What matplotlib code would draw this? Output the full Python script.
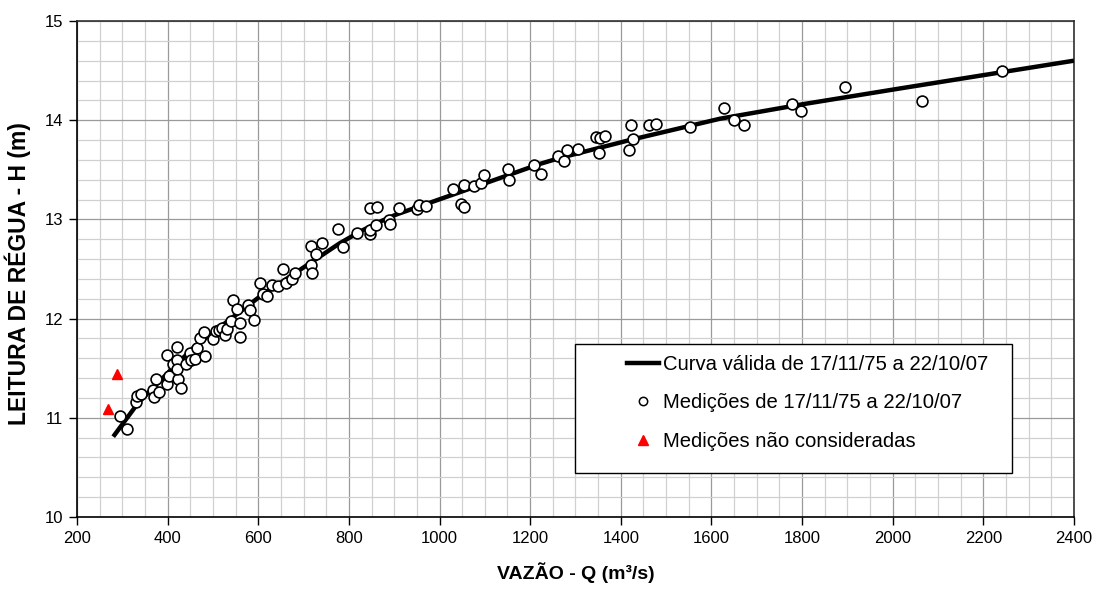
import matplotlib
matplotlib.use("Agg")
import matplotlib.pyplot as plt
from matplotlib.lines import Line2D
from matplotlib.patches import Rectangle
from matplotlib.ticker import MultipleLocator

plt.rcParams['font.family'] = ['Liberation Sans', 'DejaVu Sans']

# Medições de vazão (m³/s) e leitura de régua (m), 17/11/75 a 22/10/07
q_med = [296, 310, 330, 333, 342, 368, 370, 375, 380, 398, 403, 399, 412, 421,
         421, 423, 429, 421, 440, 449, 452, 460, 464, 471, 480, 482, 500, 507,
         513, 521, 526, 530, 540, 545, 553, 560, 560, 578, 582, 590, 604, 610,
         619, 630, 643, 655, 661, 674, 682, 716, 718, 716, 727, 741, 777, 786,
         819, 846, 847, 846, 863, 860, 889, 891, 910, 951, 955, 970, 1030, 1048,
         1055, 1055, 1076, 1092, 1098, 1151, 1153, 1209, 1223, 1261, 1274, 1281,
         1306, 1345, 1352, 1355, 1366, 1419, 1423, 1428, 1462, 1478, 1552, 1628,
         1649, 1672, 1778, 1798, 1895, 2065, 2242]
h_med = [11.02, 10.89, 11.16, 11.22, 11.24, 11.28, 11.21, 11.39, 11.26, 11.34,
         11.42, 11.63, 11.54, 11.71, 11.58, 11.39, 11.30, 11.49, 11.54, 11.65,
         11.58, 11.59, 11.70, 11.80, 11.87, 11.62, 11.79, 11.88, 11.89, 11.91,
         11.83, 11.90, 11.98, 12.19, 12.10, 11.96, 11.81, 12.14, 12.09, 11.99,
         12.36, 12.25, 12.23, 12.34, 12.33, 12.50, 12.36, 12.40, 12.46, 12.54,
         12.46, 12.73, 12.65, 12.76, 12.90, 12.72, 12.86, 12.85, 12.89, 13.12,
         13.13, 12.94, 12.99, 12.95, 13.12, 13.10, 13.15, 13.14, 13.31, 13.16,
         13.13, 13.35, 13.34, 13.37, 13.45, 13.51, 13.40, 13.55, 13.46, 13.64,
         13.59, 13.70, 13.71, 13.83, 13.67, 13.82, 13.84, 13.70, 13.95, 13.81,
         13.95, 13.96, 13.93, 14.12, 14.00, 13.95, 14.16, 14.09, 14.33, 14.19,
         14.50]

# Medições descartadas
q_nc = [269, 288]
h_nc = [11.09, 11.44]

# Curva-chave
q_curva = [280, 335, 400, 460, 540, 600, 685, 780, 830, 870, 905, 1067, 1222,
           1266, 1420, 1619, 1800, 2016, 2400]
h_curva = [10.81, 11.15, 11.45, 11.72, 12.00, 12.21, 12.47, 12.76, 12.89,
           12.98, 13.05, 13.31, 13.56, 13.62, 13.80, 14.015, 14.16, 14.32, 14.60]

fig = plt.figure(figsize=(10.98, 5.90), dpi=100)
ax = fig.add_axes([0.0701, 0.1237, 0.908, 0.8407])

ax.set_xlim(200, 2400)
ax.set_ylim(10, 15)
ax.xaxis.set_major_locator(MultipleLocator(200))
ax.xaxis.set_minor_locator(MultipleLocator(50))
ax.yaxis.set_major_locator(MultipleLocator(1))
ax.yaxis.set_minor_locator(MultipleLocator(0.2))

ax.grid(True, which='minor', color='#d0d0d0', linewidth=0.9)
ax.grid(True, which='major', color='#9a9a9a', linewidth=0.9)
ax.set_axisbelow(True)

ax.tick_params(which='major', direction='out', length=6, width=1,
               labelsize=12, pad=4, colors='black')
ax.tick_params(which='minor', length=0)
for side in ['left', 'bottom']:
    ax.spines[side].set_color('black')
    ax.spines[side].set_linewidth(1.2)
for side in ['top', 'right']:
    ax.spines[side].set_color('#303030')
    ax.spines[side].set_linewidth(1.2)

ax.plot(q_curva, h_curva, color='black', linewidth=3.2, solid_capstyle='butt',
        zorder=3)
ax.plot(q_med, h_med, linestyle='none', marker='o', markersize=7.8,
        markerfacecolor='white', markeredgecolor='black', markeredgewidth=1.2,
        zorder=4)
ax.plot(q_nc, h_nc, linestyle='none', marker='^', markersize=7.5,
        markerfacecolor='#ff0000', markeredgecolor='#ff0000', zorder=4)

ax.set_xlabel('VAZÃO - Q (m³/s)', fontsize=14, fontweight='bold', labelpad=12)
ax.set_ylabel('LEITURA DE RÉGUA - H (m)', fontsize=16.5, fontweight='bold')
ax.yaxis.set_label_coords(-0.046, 0.49)

# Caixa da legenda
ax.add_patch(Rectangle((0.4995, 0.0887), 0.4385, 0.2601,
                       transform=ax.transAxes, facecolor='white',
                       edgecolor='black', linewidth=1.0, zorder=5))

handles = [
    Line2D([], [], color='black', linewidth=3.2),
    Line2D([], [], linestyle='none', marker='o', markersize=6,
           markerfacecolor='white', markeredgecolor='black',
           markeredgewidth=1.1),
    Line2D([], [], linestyle='none', marker='^', markersize=7,
           markerfacecolor='#ff0000', markeredgecolor='#ff0000'),
]
labels = ['Curva válida de 17/11/75 a 22/10/07',
          'Medições de 17/11/75 a 22/10/07',
          'Medições não consideradas']
leg = ax.legend(handles, labels, loc='upper left',
                bbox_to_anchor=(0.5517, 0.3266), frameon=False,
                fontsize=14.6, handlelength=1.58, handletextpad=0.2,
                labelspacing=0.96, borderpad=0, borderaxespad=0)
leg.set_zorder(6)

fig.savefig('out.png', dpi=100)
